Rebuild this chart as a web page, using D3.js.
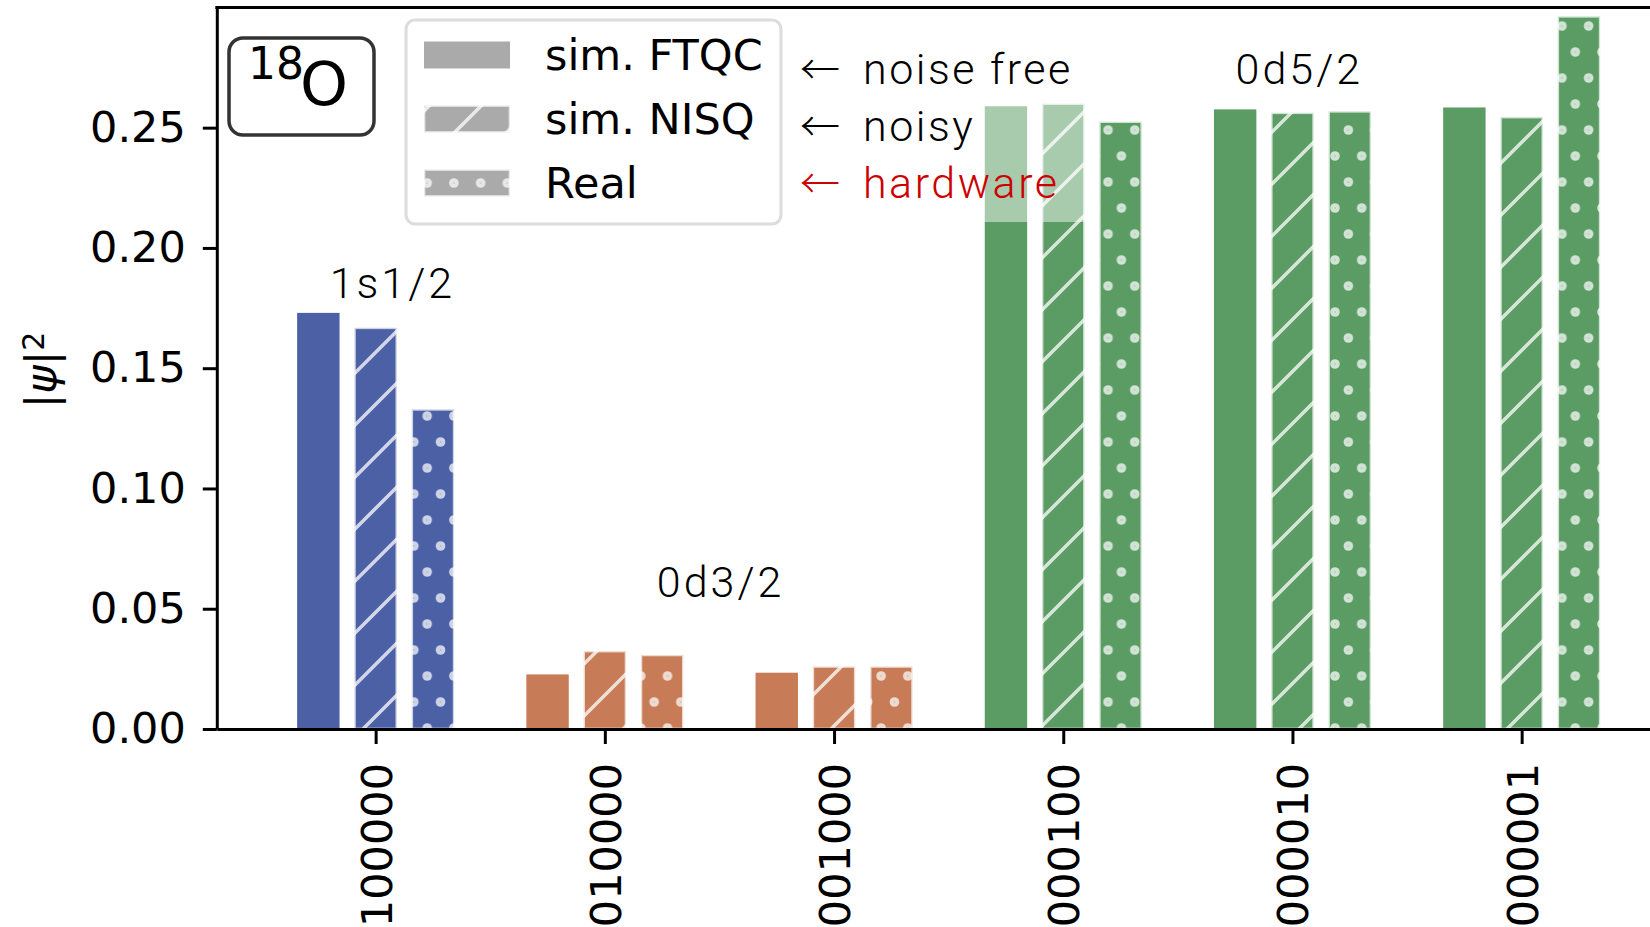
<!DOCTYPE html>
<html>
<head>
<meta charset="utf-8">
<script src="https://cdn.jsdelivr.net/npm/d3@7"></script>
<style>
body { margin: 0; background: #fff; }
svg { display: block; }
</style>
</head>
<body>
<div id="chart"></div>
<script>
////// DATA ////////
var states = ["100000", "010000", "001000", "000100", "000010", "000001"];
var shellOfState = [0, 1, 1, 2, 2, 2];
var shells = ["1s1/2", "0d3/2", "0d5/2"];
var series = ["sim. FTQC", "sim. NISQ", "Real"];
var ftqc = [0.1730, 0.0227, 0.0234, 0.2589, 0.2576, 0.2584];
var nisq = [0.1668, 0.0324, 0.0260, 0.2600, 0.2562, 0.2544];
var real = [0.1329, 0.0308, 0.0260, 0.2525, 0.2568, 0.2963];
var yTicks = [0.00, 0.05, 0.10, 0.15, 0.20, 0.25];
var notes = ["noise free", "noisy", "hardware"];
////////////////////

var w = 1650;
var h = 927;
var shellColour = ["#4c60a5", "#c77b57", "#5a9c63"];
var edgeColour = "rgba(255,255,255,0.72)";
var tickFont = "DejaVu Sans, sans-serif";
var noteFont = "Roboto, 'Noto Sans', sans-serif";
var arrowFont = "'Noto Sans CJK JP', 'DejaVu Sans', sans-serif";

var x = d3.scaleLinear().domain([-0.693, 5.693]).range([216.8, 1680.5]);
var y = d3.scaleLinear().domain([0, 0.3]).range([729, 7.4]);

var barW = x(0.185) - x(0);
var offsets = [-0.25, 0, 0.25];

var svg = d3.select("#chart")
	.append("svg")
	.attr("width", w)
	.attr("height", h);

svg.append("rect").attr("width", w).attr("height", h).attr("fill", "#fff");

var defs = svg.append("defs");

// hatch '/' pattern
var hatch = defs.append("pattern")
	.attr("id", "hatch")
	.attr("patternUnits", "userSpaceOnUse")
	.attr("width", 52).attr("height", 52);
hatch.append("path")
	.attr("d", "M0,52 L52,0 M-13,13 L13,-13 M39,65 L65,39")
	.attr("stroke", "rgba(255,255,255,0.75)")
	.attr("stroke-width", 3.5);

// dots '.' pattern
var dots = defs.append("pattern")
	.attr("id", "dots")
	.attr("patternUnits", "userSpaceOnUse")
	.attr("width", 26.7).attr("height", 52);
[[0, 0], [26.7, 0], [0, 52], [26.7, 52], [13.35, 26]].forEach(function (p) {
	dots.append("circle").attr("cx", p[0]).attr("cy", p[1]).attr("r", 4.8)
		.attr("fill", "rgba(255,255,255,0.72)");
	dots.append("circle").attr("cx", p[0]).attr("cy", p[1]).attr("r", 0.9)
		.attr("fill", "rgba(0,0,0,0.12)");
});

defs.append("clipPath").attr("id", "plotArea")
	.append("rect")
	.attr("x", x.range()[0]).attr("y", y.range()[1])
	.attr("width", x.range()[1] - x.range()[0])
	.attr("height", y.range()[0] - y.range()[1]);

// build bars
var bars = [];
[ftqc, nisq, real].forEach(function (vals, s) {
	vals.forEach(function (v, i) {
		bars.push({ s: s, i: i, v: v });
	});
});

var plot = svg.append("g").attr("clip-path", "url(#plotArea)");

var barG = plot.selectAll("g.bar")
	.data(bars)
	.enter()
	.append("g")
	.attr("class", "bar");

function bx(d) { return x(d.i + offsets[d.s]) - barW / 2; }

barG.append("rect")
	.attr("x", bx)
	.attr("y", function (d) { return y(d.v); })
	.attr("width", barW)
	.attr("height", function (d) { return y(0) - y(d.v); })
	.attr("fill", function (d) { return shellColour[shellOfState[d.i]]; });

barG.filter(function (d) { return d.s > 0; })
	.append("rect")
	.attr("x", bx)
	.attr("y", function (d) { return y(d.v); })
	.attr("width", barW)
	.attr("height", function (d) { return y(0) - y(d.v); })
	.attr("fill", function (d) { return d.s == 1 ? "url(#hatch)" : "url(#dots)"; })
	.attr("stroke", edgeColour)
	.attr("stroke-width", 2.7);

// translucent box behind the notes
plot.append("rect")
	.attr("x", 790).attr("y", 28)
	.attr("width", 300).attr("height", 194)
	.attr("fill", "#fff").attr("fill-opacity", 0.48);

// shell labels
var shellPos = [[0.073, 0.1858], [1.505, 0.0615], [4.03, 0.2745]];
svg.selectAll("text.shell")
	.data(shells)
	.enter()
	.append("text")
	.attr("class", "shell")
	.attr("x", function (d, i) { return x(shellPos[i][0]); })
	.attr("y", function (d, i) { return y(shellPos[i][1]); })
	.attr("dy", "0.36em")
	.attr("text-anchor", "middle")
	.style("font-family", noteFont)
	.style("font-weight", 300)
	.style("font-size", "43px")
	.style("letter-spacing", "3px")
	.text(function (d) { return d; });

// notes next to legend
var note = svg.selectAll("text.note")
	.data(notes)
	.enter()
	.append("text")
	.attr("class", "note")
	.attr("y", function (d, i) { return 69 + i * 57; })
	.attr("dy", "0.36em")
	.attr("fill", function (d, i) { return i == 2 ? "#cc0000" : "#000"; })
	.style("font-family", noteFont)
	.style("font-weight", 300)
	.style("font-size", "43px");
note.append("tspan").attr("x", 800)
	.style("font-family", arrowFont)
	.style("font-size", "40px")
	.text("\u2190");
note.append("tspan").attr("x", 863)
	.style("letter-spacing", "2.5px")
	.text(function (d) { return d; });

// axes
var yAxis = svg.append("g")
	.attr("transform", "translate(" + x.range()[0] + ",0)")
	.call(d3.axisLeft(y).tickValues(yTicks).tickFormat(d3.format(".2f")).tickSize(14).tickSizeOuter(0).tickPadding(17));

var xAxis = svg.append("g")
	.attr("transform", "translate(0," + y(0) + ")")
	.call(d3.axisBottom(x).tickValues(d3.range(states.length)).tickFormat(function (i) { return states[i]; }).tickSize(15).tickSizeOuter(0));

[yAxis, xAxis].forEach(function (a) {
	a.select(".domain").attr("stroke", "#000").attr("stroke-width", 3);
	a.selectAll(".tick line").attr("stroke", "#000").attr("stroke-width", 3);
	a.selectAll("text")
		.attr("fill", "#000")
		.style("font-family", tickFont)
		.style("font-size", "43px");
});

xAxis.selectAll(".tick text")
	.attr("text-anchor", "end")
	.attr("transform", "translate(0,34) rotate(-90)")
	.attr("x", 0).attr("y", 0)
	.attr("dy", "0.36em");

// top spine
svg.append("line")
	.attr("x1", x.range()[0] - 1.5).attr("x2", w)
	.attr("y1", y.range()[1]).attr("y2", y.range()[1])
	.attr("stroke", "#000").attr("stroke-width", 3);

// y label |psi|^2
var yl = svg.append("text")
	.attr("transform", "translate(56,370) rotate(-90)")
	.attr("text-anchor", "middle")
	.style("font-family", tickFont)
	.style("font-size", "43px");
yl.append("tspan").text("|");
yl.append("tspan").style("font-style", "italic").text("\u03c8");
yl.append("tspan").text("|");
yl.append("tspan").attr("dy", "-0.4em").style("font-size", "30px").text("2");

// 18O box
svg.append("rect")
	.attr("x", 229).attr("y", 38)
	.attr("width", 145).attr("height", 97)
	.attr("rx", 14)
	.attr("fill", "#fff")
	.attr("stroke", "#333").attr("stroke-width", 3.5);
var iso = svg.append("text")
	.style("font-family", tickFont);
iso.append("tspan").attr("x", 248).attr("y", 79).style("font-size", "44px").text("18");
iso.append("tspan").attr("x", 300).attr("y", 105).style("font-size", "61px").text("O");

// legend
var lg = svg.append("g");
lg.append("rect")
	.attr("x", 406).attr("y", 20)
	.attr("width", 375).attr("height", 204)
	.attr("rx", 9)
	.attr("fill", "#fff").attr("fill-opacity", 0.8)
	.attr("stroke", "#dcdcdc").attr("stroke-width", 3);

var lgItem = lg.selectAll("g.item")
	.data(series)
	.enter()
	.append("g")
	.attr("class", "item")
	.attr("transform", function (d, i) { return "translate(0," + (55 + i * 64) + ")"; });

lgItem.append("rect")
	.attr("x", 424).attr("y", -13.5)
	.attr("width", 86).attr("height", 27)
	.attr("fill", "#aaaaaa");
lgItem.filter(function (d, i) { return i > 0; })
	.append("rect")
	.attr("x", 424).attr("y", -13.5)
	.attr("width", 86).attr("height", 27)
	.attr("fill", function (d, i) { return i == 0 ? "url(#hatch)" : "url(#dots)"; })
	.attr("stroke", edgeColour)
	.attr("stroke-width", 2.7);

lgItem.append("text")
	.attr("x", 545)
	.attr("dy", "0.36em")
	.style("font-family", tickFont)
	.style("font-size", "43px")
	.text(function (d) { return d; });
</script>
</body>
</html>
